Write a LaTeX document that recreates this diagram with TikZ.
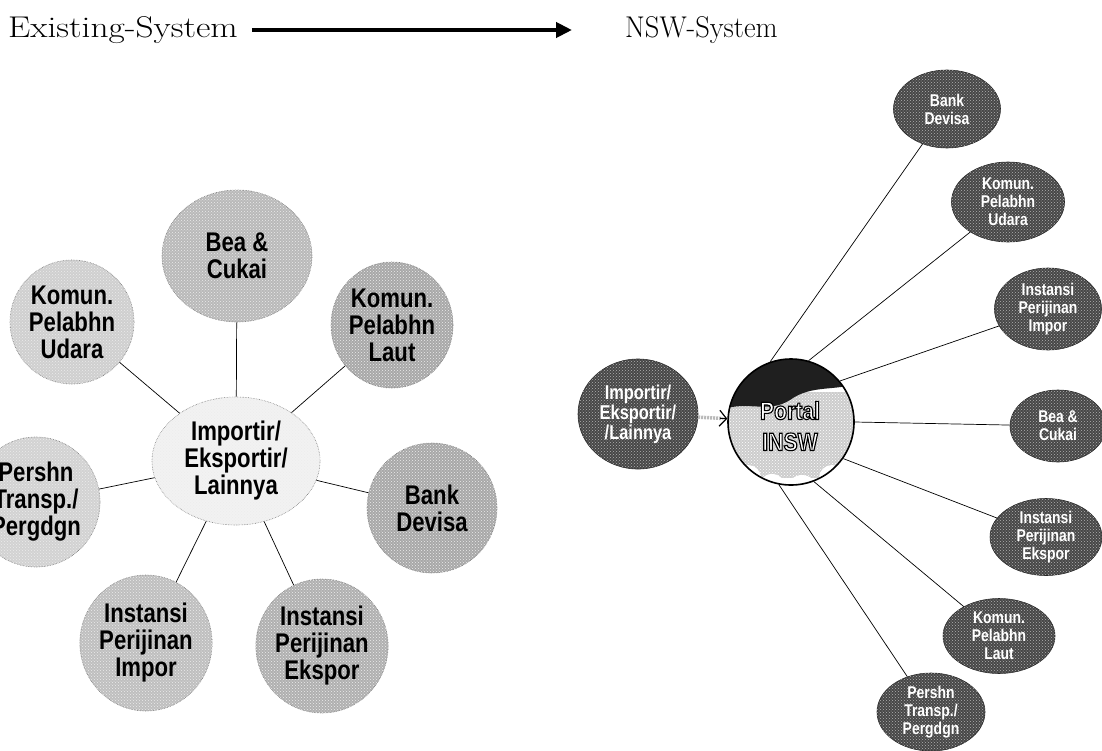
\documentclass[tikz,border=0pt]{standalone}
\usepackage{fontspec}
\usepackage{graphicx}
\usetikzlibrary{shapes.geometric,arrows.meta,patterns,calc}
\newfontfamily\narf[FakeStretch=0.82]{Liberation Sans}
\newfontfamily\outf[FakeStretch=0.85,FakeBold=4.5]{Liberation Sans}
\newcommand{\outlinedtext}[1]{{\color{white}\special{pdf:code 0 G}#1}}
\begin{document}
\begin{tikzpicture}[x=1pt,y=-1pt,
  bub/.style={ellipse, inner sep=0pt, align=center, draw=black!55, densely dotted, line width=0.6pt,
    font=\narf\bfseries\fontsize{27}{27}\selectfont,
    postaction={pattern=crosshatch dots, pattern color=white!85!gray}},
  sz/.style 2 args={minimum width=#1pt, minimum height=#2pt},
  rbub/.style={ellipse, inner sep=0pt, align=center, fill=black!72, draw=black!85, line width=0.6pt, text=white,
    font=\narf\bfseries\fontsize{17}{18}\selectfont,
    postaction={pattern=crosshatch dots, pattern color=gray!60}},
  link/.style={line width=0.7pt, black},
  ttl/.style={anchor=west, inner sep=0pt, font=\fontsize{30}{32}\selectfont},
  globetext/.style={align=center, inner sep=0pt, font=\outf\bfseries\fontsize{25}{31}\selectfont},
]
\useasboundingbox (0,0) rectangle (1102,750);

% ---------- title ----------
\node[ttl] (ex) at (8,30) {\scalebox{1.18}[1]{Existing-System}};
\node[ttl] (nsw) at (625,30) {\scalebox{0.95}[1]{NSW-System}};
\draw[line width=4.5pt, -{Triangle[length=16pt,width=15pt]}, shorten <=14pt, shorten >=53pt] (ex) -- (nsw);

% ---------- existing system ----------
\node[bub, sz={150}{132}, fill=gray!55] (bea) at (237,256) {Bea \&\\Cukai};
\node[bub, sz={124}{124}, fill=gray!38] (udara) at (72,322) {Komun.\\Pelabhn\\Udara};
\node[bub, sz={122}{126}, fill=gray!68] (laut) at (392,325) {Komun.\\Pelabhn\\Laut};
\node[bub, sz={168}{128}, fill=gray!10] (imp) at (236,461) {Importir/\\Eksportir/\\Lainnya};
\node[bub, sz={128}{130}, fill=gray!35] (persh) at (36,502) {Pershn\\Transp./\\Pergdgn};
\node[bub, sz={130}{130}, fill=gray!68] (bank) at (432,508) {Bank\\Devisa};
\node[bub, sz={132}{136}, fill=gray!50] (impor) at (146,643) {Instansi\\Perijinan\\Impor};
\node[bub, sz={132}{134}, fill=gray!62] (ekspor) at (322,646) {Instansi\\Perijinan\\Ekspor};

\draw[link] (imp) -- (bea);
\draw[link] (imp) -- (udara);
\draw[link] (imp) -- (laut);
\draw[link] (imp) -- (persh);
\draw[link] (imp) -- (bank);
\draw[link] (imp) -- (impor);
\draw[link] (imp) -- (ekspor);

% ---------- NSW system ----------
\coordinate (gc) at (791,422);
\begin{scope}
  \clip (gc) circle[radius=63pt];
  \fill[white] (gc) circle[radius=63pt];
  \fill[gray!40] (720,392) rectangle (862,478);
  \fill[pattern=crosshatch dots, pattern color=white] (720,392) rectangle (862,478);
  \fill[black!88] (720,350) -- (862,350) -- (862,382)
     .. controls (835,392) and (812,384) .. (790,400)
     .. controls (768,414) and (748,400) .. (720,410) -- cycle;
  \fill[white] (748,478) circle[radius=13pt];
  \fill[white] (772,488) circle[radius=14pt];
  \fill[white] (802,490) circle[radius=15pt];
  \fill[white] (832,478) circle[radius=13pt];
\end{scope}
\node[circle, minimum size=126pt, inner sep=0pt, draw, line width=1.6pt] (globe) at (gc) {};
\node[globetext] (portal) at (790,426) {\outlinedtext{Portal}\\\outlinedtext{INSW}};

\node[rbub, sz={120}{110}, font=\narf\bfseries\fontsize{20}{20}\selectfont] (rimp) at (638,414) {Importir/\\Eksportir/\\/Lainnya};

\draw[line width=3.5pt, gray!55, dash pattern=on 2pt off 1pt, shorten >=5pt] (rimp) -- (globe);
\draw[line width=1.2pt, -{Straight Barb[length=7pt,width=16pt]}, shorten <=22pt] (rimp) -- (globe);

\node[rbub, sz={107}{78}] (rbank) at (947,109) {Bank\\Devisa};
\node[rbub, sz={113}{80}] (rudara) at (1008,202) {Komun.\\Pelabhn\\Udara};
\node[rbub, sz={107}{82}] (rimpor) at (1048,309) {Instansi\\Perijinan\\Impor};
\node[rbub, sz={96}{72}] (rbea) at (1058,426) {Bea \&\\Cukai};
\node[rbub, sz={112}{77}] (rekspor) at (1046,537) {Instansi\\Perijinan\\Ekspor};
\node[rbub, sz={112}{75}] (rlaut) at (999,636) {Komun.\\Pelabhn\\Laut};
\node[rbub, sz={108}{78}] (rtransp) at (931,712) {Pershn\\Transp./\\Pergdgn};

\draw[link] (globe.109) -- (rbank);
\draw[link] (globe.74) -- (rudara);
\draw[link] (globe.40) -- (rimpor);
\draw[link] (globe.0) -- (rbea);
\draw[link] (globe.-35) -- (rekspor);
\draw[link] (globe.-69) -- (rlaut);
\draw[link] (globe.-101) -- (rtransp);
\end{tikzpicture}
\end{document}
